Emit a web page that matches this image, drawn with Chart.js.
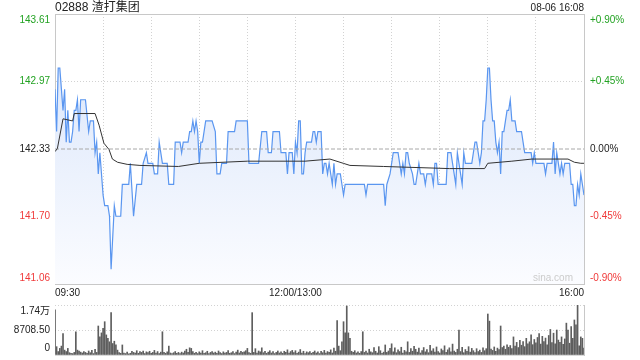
<!DOCTYPE html>
<html>
<head>
<meta charset="utf-8">
<title>02888 渣打集团</title>
<script src="https://cdn.jsdelivr.net/npm/chart.js@4.4.1/dist/chart.umd.min.js"></script>
<style>
  body { margin: 0; background: #fff; font-family: 'Liberation Sans', Arial, 'Noto Sans CJK SC', sans-serif; }
  #wrap { position: relative; width: 640px; height: 360px; overflow: hidden; }
  #title { position: absolute; left: 55px; top: 0; font-size: 12px; line-height: 15px; color: #222; }
  #stamp { position: absolute; right: 56px; top: 1px; font-size: 10px; line-height: 14px; color: #222; }
  #mark { position: absolute; right: 67px; top: 272px; font-size: 10px; line-height: 12px; color: #ccc; }
  #priceChart { position: absolute; left: 0; top: 0; }
  #volChart { position: absolute; left: 0; top: 300px; }
</style>
</head>
<body>
<div id="wrap">
  <canvas id="priceChart" width="640" height="300"></canvas>
  <canvas id="volChart" width="640" height="60"></canvas>
  <div id="title">02888 渣打集团</div>
  <div id="stamp">08-06 16:08</div>
  <div id="mark">sina.com</div>
</div>
<script>
// minutes from 09:30 (lunch break folded out), 330 = 16:00
const prevClose = 142.335;

const priceMin = [0, 1, 2, 3, 5, 6, 7, 8, 9, 10, 11, 12, 13, 14, 15, 16, 19, 21, 22, 24,
  25, 26, 27, 28, 30, 31, 33, 34, 35, 37, 38, 41, 42, 46, 47, 49, 51, 54, 55, 57,
  58, 61, 62, 64, 65, 67, 70, 71, 74, 75, 78, 79, 80, 83, 84, 85, 86, 87, 88, 89,
  90, 91, 92, 94, 98, 100, 101, 103, 104, 107, 108, 112, 113, 120, 121, 126, 127, 129, 132, 133,
  135, 136, 140, 141, 144, 145, 146, 148, 149, 150, 151, 152, 153, 154, 155, 156, 157, 160, 161, 162,
  163, 164, 166, 167, 168, 169, 170, 171, 172, 173, 174, 175, 176, 178, 179, 180, 181, 193, 194, 195,
  205, 206, 207, 209, 210, 211, 214, 215, 216, 217, 218, 219, 220, 221, 223, 224, 225, 226, 227, 228,
  230, 231, 232, 235, 236, 237, 238, 239, 244, 245, 247, 248, 249, 250, 251, 252, 253, 254, 255, 256,
  260, 261, 262, 263, 264, 265, 266, 267, 268, 269, 270, 271, 272, 273, 274, 275, 276, 277, 278, 279,
  280, 281, 282, 283, 284, 285, 287, 288, 291, 292, 293, 297, 298, 299, 300, 305, 306, 307, 310, 311,
  312, 313, 314, 315, 316, 317, 318, 321, 322, 323, 324, 325, 326, 327, 328, 329, 330];
const priceVal = [142.9, 142.5, 143.1, 143.1, 142.7, 142.9, 142.4, 142.7, 142.4, 142.4, 142.5, 142.7, 142.7, 142.8, 142.5, 142.8, 142.8, 142.5, 142.6, 142.6,
  142.3, 142.4, 142.1, 142.3, 141.9, 141.8, 141.8, 141.7, 141.2, 141.8, 141.7, 141.7, 142.0, 142.0, 142.2, 141.7, 142.0, 142.0, 142.2, 142.3,
  142.2, 142.2, 142.1, 142.1, 142.4, 142.2, 142.2, 142.0, 142.0, 142.4, 142.4, 142.3, 142.4, 142.4, 142.5, 142.5, 142.6, 142.5, 142.6, 142.5,
  142.2, 142.4, 142.4, 142.6, 142.6, 142.5, 142.1, 142.1, 142.2, 142.2, 142.5, 142.5, 142.6, 142.6, 142.2, 142.2, 142.2, 142.5, 142.5, 142.3,
  142.3, 142.5, 142.5, 142.3, 142.3, 142.1, 142.3, 142.3, 142.1, 142.4, 142.3, 142.6, 142.6, 142.1, 142.1, 142.3, 142.4, 142.4, 142.5, 142.5,
  142.4, 142.5, 142.5, 142.1, 142.2, 142.2, 142.1, 142.2, 142.1, 142.0, 142.2, 142.0, 142.1, 142.1, 142.0, 141.9, 142.0, 142.0, 141.9, 142.0,
  142.0, 141.8, 142.0, 142.1, 142.2, 142.3, 142.3, 142.2, 142.1, 142.2, 142.1, 142.3, 142.3, 142.2, 142.1, 142.0, 142.0, 142.1, 142.2, 142.1,
  142.1, 142.0, 142.1, 142.1, 142.0, 142.2, 142.2, 142.0, 142.0, 142.3, 142.3, 142.2, 142.1, 142.0, 142.3, 142.2, 142.1, 142.0, 142.3, 142.2,
  142.2, 142.3, 142.4, 142.4, 142.3, 142.2, 142.3, 142.6, 142.6, 142.8, 143.1, 143.1, 142.8, 142.6, 142.6, 142.4, 142.3, 142.4, 142.1, 142.5,
  142.5, 142.6, 142.7, 142.7, 142.8, 142.6, 142.6, 142.5, 142.5, 142.4, 142.3, 142.3, 142.2, 142.3, 142.2, 142.2, 142.1, 142.2, 142.2, 142.4,
  142.1, 142.3, 142.2, 142.1, 142.2, 142.1, 142.2, 142.2, 142.0, 142.0, 141.8, 141.8, 142.0, 141.9, 142.1, 142.0, 141.9];

const avgMin = [0, 1.5, 5, 11, 12, 25, 27.5, 30.5, 33.7, 35.8, 39, 45, 53, 77, 90, 120, 156, 171.5, 179.8, 184,
  205, 246, 268, 270, 285, 297.5, 320, 324, 328, 330];
const avgVal = [142.31, 142.34, 142.62, 142.6, 142.67, 142.67, 142.56, 142.39, 142.33, 142.24, 142.21, 142.19, 142.18, 142.17, 142.2, 142.22, 142.22, 142.24, 142.2, 142.18,
  142.17, 142.15, 142.15, 142.2, 142.22, 142.24, 142.24, 142.21, 142.2, 142.2];

// one bar per minute, 0..330
const volume = [
  15700, 2900, 1200, 2300, 3100, 7500, 1700, 1200, 2300, 800,
  600, 500, 900, 8100, 1700, 1400, 1000, 700, 1200, 900,
  600, 1400, 800, 1600, 500, 2000, 900, 10100, 6300, 7700,
  9300, 11600, 7000, 5800, 4600, 14750, 4000, 4800, 3500, 1700,
  800, 600, 3500, 700, 500, 1000, 400, 600, 1300, 900,
  700, 1500, 600, 1200, 900, 1400, 500, 1100, 800, 1300,
  600, 900, 1600, 700, 1200, 500, 1000, 8100, 900, 600,
  1100, 3100, 700, 500, 800, 1200, 600, 900, 500, 1000,
  700, 1400, 2000, 900, 2500, 2300, 1200, 600, 900, 500,
  1100, 700, 1500, 600, 800, 1300, 500, 900, 1200, 700,
  1000, 600, 1400, 800, 500, 1100, 700, 900, 1500, 600,
  800, 1200, 500, 1000, 1700, 700, 1300, 900, 1100, 1500,
  2300, 800, 600, 14750, 900, 2200, 700, 1400, 1100, 2500,
  800, 1300, 600, 1000, 1500, 700, 1200, 500, 900, 1400,
  700, 1100, 600, 1300, 900, 1800, 700, 1200, 1600, 800,
  1500, 600, 1000, 1900, 700, 1300, 500, 1100, 800, 1200,
  600, 900, 1400, 700, 1100, 500, 1300, 800, 1600, 700,
  1200, 900, 1800, 700, 2400, 1300, 12000, 3100, 1500, 4600,
  11600, 7700, 17070, 7700, 5800, 1300, 900, 1500, 700, 1100,
  600, 1200, 8100, 900, 1400, 700, 2000, 1100, 800, 2600,
  1300, 700, 2900, 1500, 600, 1000, 3500, 900, 1400, 2300,
  3900, 1100, 2500, 800, 1800, 1200, 2700, 700, 1600, 1100,
  4600, 900, 2200, 1300, 3000, 2000, 1000, 2400, 700, 1500,
  2600, 1100, 1900, 800, 3400, 1400, 2200, 1000, 2800, 1200,
  700, 2100, 1500, 3200, 900, 1800, 2500, 1100, 3800, 1400,
  900, 2000, 8700, 1200, 2700, 800, 1900, 1300, 2900, 1000,
  2300, 1500, 800, 2200, 1200, 1700, 900, 2500, 1500, 2200,
  14280, 11800, 2100, 1600, 2800, 1300, 2400, 1900, 10100, 2600,
  3100, 2000, 3500, 2700, 3300, 2200, 6300, 3100, 4400, 2600,
  5100, 3400, 4700, 2900, 5800, 3900, 4600, 7000, 3600, 5400,
  4200, 6100, 7500, 3800, 6500, 4700, 5900, 3500, 6800, 8900,
  4300, 7600, 3900, 8700, 5200, 4400, 6300, 3700, 5600, 11100,
  8700, 4100, 9900, 5800, 12200, 10500, 17400, 3200, 6300, 5800,
  2400];

const yLeftTicks = [141.06, 141.6975, 142.335, 142.9725, 143.61];
const yLeftLabels = ['141.06', '141.70', '142.33', '142.97', '143.61'];
const yRightTicks = [-0.9, -0.45, 0, 0.45, 0.9];
const yRightLabels = ['-0.90%', '-0.45%', '0.00%', '+0.45%', '+0.90%'];
const xGridMin = [0, 30, 60, 90, 120, 150, 180, 210, 240, 270, 300, 330];
const xLabelMin = [0, 150, 330];
const xLabelText = ['09:30', '12:00/13:00', '16:00'];
const volTicks = [0, 8708.5, 17417];
const volLabels = ['0', '8708.50', '1.74万'];

const UP = '#22a222';
const DOWN = '#f03a3a';
const GRID = '#d2d2d2';
const FRAME = '#c8c8c8';
const NONE = 'rgba(0,0,0,0)';

Chart.defaults.font.family = "'Liberation Sans', Arial, 'Noto Sans CJK SC', sans-serif";
Chart.defaults.font.size = 10;

// first/last labels are pushed inside the plot like the original
function edgeLabel(text, i, n) {
    if (i === 0) return [text, ''];
    if (i === n - 1) return ['', text];
    return text;
}

function sideColor(i) {
    if (i > 2) return UP;
    if (i < 2) return DOWN;
    return '#222';
}

// keep the two-line edge labels from eating into the plot height
function fixWidth(w) {
    return s => { s.width = w; s.paddingTop = 0; s.paddingBottom = 0; };
}

const priceFill = (ctx) => {
    const area = ctx.chart.chartArea;
    if (!area) return '#e6eefb';
    const g = ctx.chart.ctx.createLinearGradient(0, area.top, 0, area.bottom);
    g.addColorStop(0, '#d6e3fa');
    g.addColorStop(1, '#fbfcff');
    return g;
};

new Chart(document.getElementById('priceChart'), {
    type: 'line',
    data: {
        datasets: [{
            data: avgMin.map((m, i) => ({x: m, y: avgVal[i]})),
            borderColor: '#333',
            borderWidth: 1,
            pointRadius: 0,
            fill: false,
            order: 0,
            xAxisID: 'x',
            yAxisID: 'y'
        }, {
            data: [{x: 0, y: prevClose}, {x: 330, y: prevClose}],
            borderColor: '#a8a8a8',
            borderWidth: 1,
            borderDash: [4, 2],
            pointRadius: 0,
            fill: false,
            order: 1,
            xAxisID: 'x',
            yAxisID: 'y'
        }, {
            data: priceMin.map((m, i) => ({x: m, y: priceVal[i]})),
            borderColor: '#5a96f0',
            borderWidth: 1.2,
            pointRadius: 0,
            tension: 0,
            fill: 'start',
            backgroundColor: priceFill,
            order: 2,
            xAxisID: 'x',
            yAxisID: 'y'
        }]
    },
    options: {
        responsive: false,
        animation: false,
        layout: { padding: { top: 14 } },
        plugins: { legend: { display: false }, tooltip: { enabled: false } },
        scales: {
            x: {
                type: 'linear', position: 'bottom', min: 0, max: 330,
                afterBuildTicks: s => { s.ticks = xGridMin.map(v => ({value: v})); },
                afterFit: s => { s.height = 16; },
                grid: {
                    drawTicks: false,
                    color: ctx => (ctx.tick && (ctx.tick.value === 0 || ctx.tick.value === 330)) ? NONE : GRID
                },
                border: { color: FRAME, dash: [1, 2] },
                ticks: {
                    autoSkip: false, maxRotation: 0, align: 'inner', padding: 3, color: '#222',
                    callback: v => { const k = xLabelMin.indexOf(v); return k < 0 ? '' : xLabelText[k]; }
                }
            },
            xTop: {
                type: 'linear', position: 'top', min: 0, max: 330,
                afterFit: s => { s.height = 0; },
                grid: { display: false },
                border: { color: FRAME },
                ticks: { display: false }
            },
            y: {
                position: 'left', min: 141.06, max: 143.61,
                afterBuildTicks: s => { s.ticks = yLeftTicks.map(v => ({value: v})); },
                afterFit: fixWidth(55),
                grid: {
                    drawTicks: false,
                    color: ctx => (ctx.index === 1 || ctx.index === 3) ? GRID : NONE
                },
                border: { color: FRAME, dash: [1, 2] },
                ticks: {
                    autoSkip: false,
                    padding: 5,
                    font: { size: 10, lineHeight: 1.2 },
                    color: ctx => sideColor(ctx.index),
                    callback: (v, i) => edgeLabel(yLeftLabels[i], i, yLeftLabels.length)
                }
            },
            yPct: {
                position: 'right', min: -0.9, max: 0.9,
                afterBuildTicks: s => { s.ticks = yRightTicks.map(v => ({value: v})); },
                afterFit: fixWidth(56),
                grid: { drawOnChartArea: false, drawTicks: false },
                border: { color: FRAME },
                ticks: {
                    autoSkip: false,
                    padding: 6,
                    font: { size: 10, lineHeight: 1.2 },
                    color: ctx => sideColor(ctx.index),
                    callback: (v, i) => edgeLabel(yRightLabels[i], i, yRightLabels.length)
                }
            }
        }
    }
});

new Chart(document.getElementById('volChart'), {
    type: 'bar',
    data: {
        datasets: [{
            data: volume.map((v, i) => ({x: i, y: v})),
            backgroundColor: '#5e5e5e',
            barThickness: 1
        }]
    },
    options: {
        responsive: false,
        animation: false,
        layout: { padding: { top: 5, bottom: 5 } },
        plugins: { legend: { display: false }, tooltip: { enabled: false } },
        scales: {
            x: {
                type: 'linear', min: 0, max: 330, offset: false,
                afterFit: s => { s.height = 0; },
                grid: { display: false },
                border: { color: '#dadada' },
                ticks: { display: false }
            },
            y: {
                position: 'left', min: 0, max: 17417,
                afterBuildTicks: s => { s.ticks = volTicks.map(v => ({value: v})); },
                afterFit: fixWidth(55),
                grid: {
                    drawTicks: false,
                    color: ctx => ctx.index === 0 ? NONE : GRID
                },
                border: { display: false, dash: [1, 2] },
                ticks: {
                    autoSkip: false,
                    padding: 5,
                    color: '#222',
                    font: { size: 10, lineHeight: 1.3 },
                    callback: (v, i) => edgeLabel(volLabels[i], i, volLabels.length)
                }
            },
            yR: {
                position: 'right', min: 0, max: 17417,
                afterFit: fixWidth(56),
                grid: { display: false },
                border: { color: FRAME },
                ticks: { display: false }
            }
        }
    }
});
</script>
</body>
</html>
